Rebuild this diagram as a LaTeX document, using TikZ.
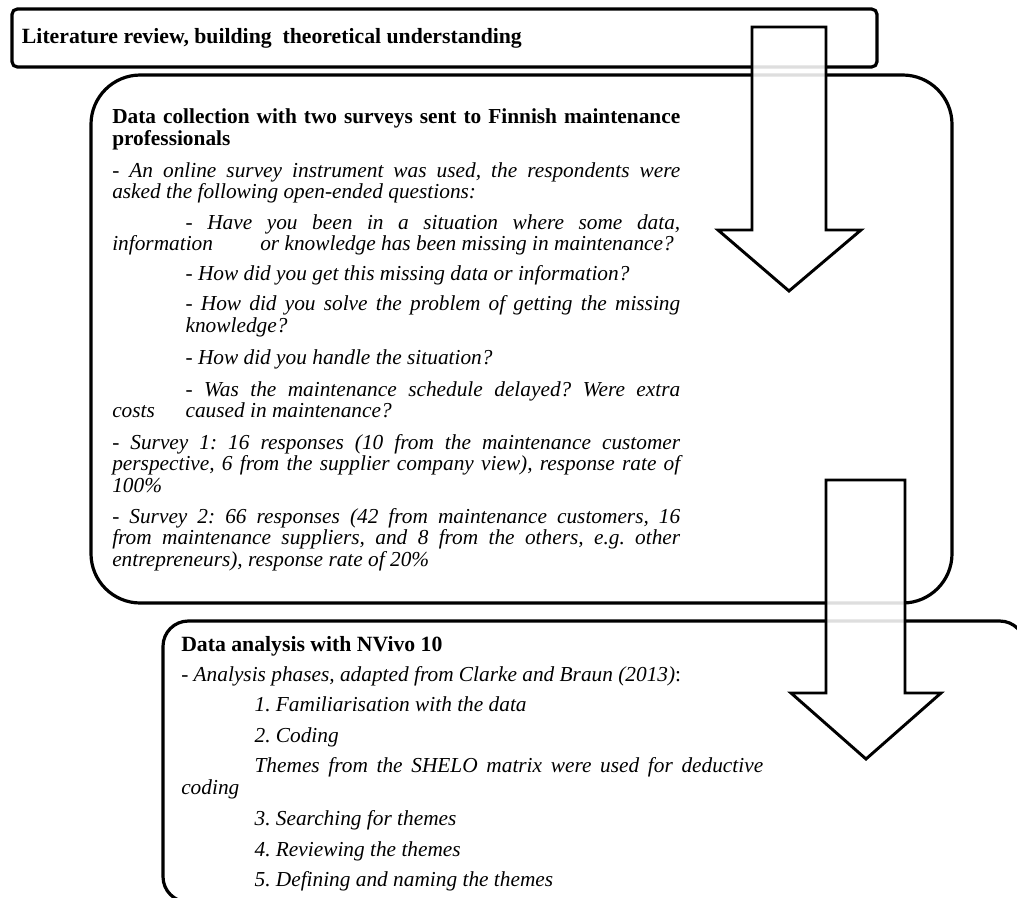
\documentclass[tikz,border=0pt]{standalone}
\usepackage{fontspec}
\setmainfont{Liberation Serif}
\frenchspacing
\newcommand{\qindent}{\hspace*{55pt}}

\begin{document}
\begin{tikzpicture}[
    x=0.75pt, y=-0.75pt,
    stage/.style={draw, line width=2.4pt},
    bigarrow/.style={draw, line width=2.2pt, fill=white, fill opacity=0.87},
    head/.style={anchor=base west, inner sep=0pt, font=\fontsize{16.3}{18}\selectfont\bfseries},
    para/.style={anchor=base west, inner sep=0pt, align=justify, text width=#1,
        font=\fontsize{16}{16.2}\selectfont\itshape,
        execute at begin node={\tolerance=9999 }},
    para/.default=426pt,
]
\useasboundingbox (0,0) rectangle (1017,897);

% the three stages
\draw[stage, rounded corners=4pt] (12,9) rectangle (877,67);
\draw[stage, rounded corners=37pt] (91,75) rectangle (952,603);
\draw[stage, rounded corners=19pt] (1025,930) -- (1025,621) -- (163,621) -- (163,902) -- (1040,902);

% block arrows between stages
\draw[bigarrow] (752,27) -- (826,27) -- (826,230) -- (861,230) -- (789,291)
    -- (718,230) -- (752,230) -- cycle;
\draw[bigarrow] (826,480) -- (905,480) -- (905,693) -- (941,693) -- (866,759)
    -- (791,693) -- (826,693) -- cycle;

% stage 1
\node[head] (lithead) at (21.7,43.3) {Literature review, building\ \ theoretical understanding};

% stage 2
\node[para, font=\fontsize{16}{17}\selectfont\bfseries] (colhead) at (112,123.3)
    {Data collection with two surveys sent to Finnish maintenance\linebreak professionals};
\node[para] (colintro) at (112,177.3)
    {- An online survey instrument was used, the respondents were\linebreak
     asked the following open-ended questions:};
\node[para] (q1) at (112,229.3)
    {\qindent- Have you been in a situation where some data,\linebreak
     \makebox[111pt][l]{information}or knowledge has been missing in maintenance?};
\node[para] (q2) at (112,280.7) {\qindent- How did you get this missing data or information?};
\node[para] (q3) at (112,310.7)
    {\qindent- How did you solve the problem of getting the missing\linebreak
     \qindent knowledge?};
\node[para] (q4) at (112,364) {\qindent- How did you handle the situation?};
\node[para] (q5) at (112,396)
    {\qindent- Was the maintenance schedule delayed? Were extra\linebreak
     \makebox[55pt][l]{costs}caused in maintenance?};
\node[para] (survey1) at (112,449.3)
    {- Survey 1: 16 responses (10 from the maintenance customer\linebreak
     perspective, 6 from the supplier company view), response rate of\linebreak
     100\%};
\node[para] (survey2) at (112,523)
    {- Survey 2: 66 responses (42 from maintenance customers, 16\linebreak
     from maintenance suppliers, and 8 from the others, e.g. other\linebreak
     entrepreneurs), response rate of 20\%};

% stage 3
\node[head] (anahead) at (181,651.7) {Data analysis with NVivo 10};
\node[para=436.5pt] (anaintro) at (181,681.7)
    {- Analysis phases, adapted from Clarke and Braun (2013)\textup{:}};
\node[para=436.5pt] (ph1) at (181,711.7) {\qindent 1. Familiarisation with the data};
\node[para=436.5pt] (ph2) at (181,742.7) {\qindent 2. Coding};
\node[para=436.5pt] (ph2note) at (181,772.7)
    {\qindent Themes from the SHELO matrix were used for deductive\linebreak coding};
\node[para=436.5pt] (ph3) at (181,825) {\qindent 3. Searching for themes};
\node[para=436.5pt] (ph4) at (181,856) {\qindent 4. Reviewing the themes};
\node[para=436.5pt] (ph5) at (181,886) {\qindent 5. Defining and naming the themes};
\end{tikzpicture}
\end{document}
